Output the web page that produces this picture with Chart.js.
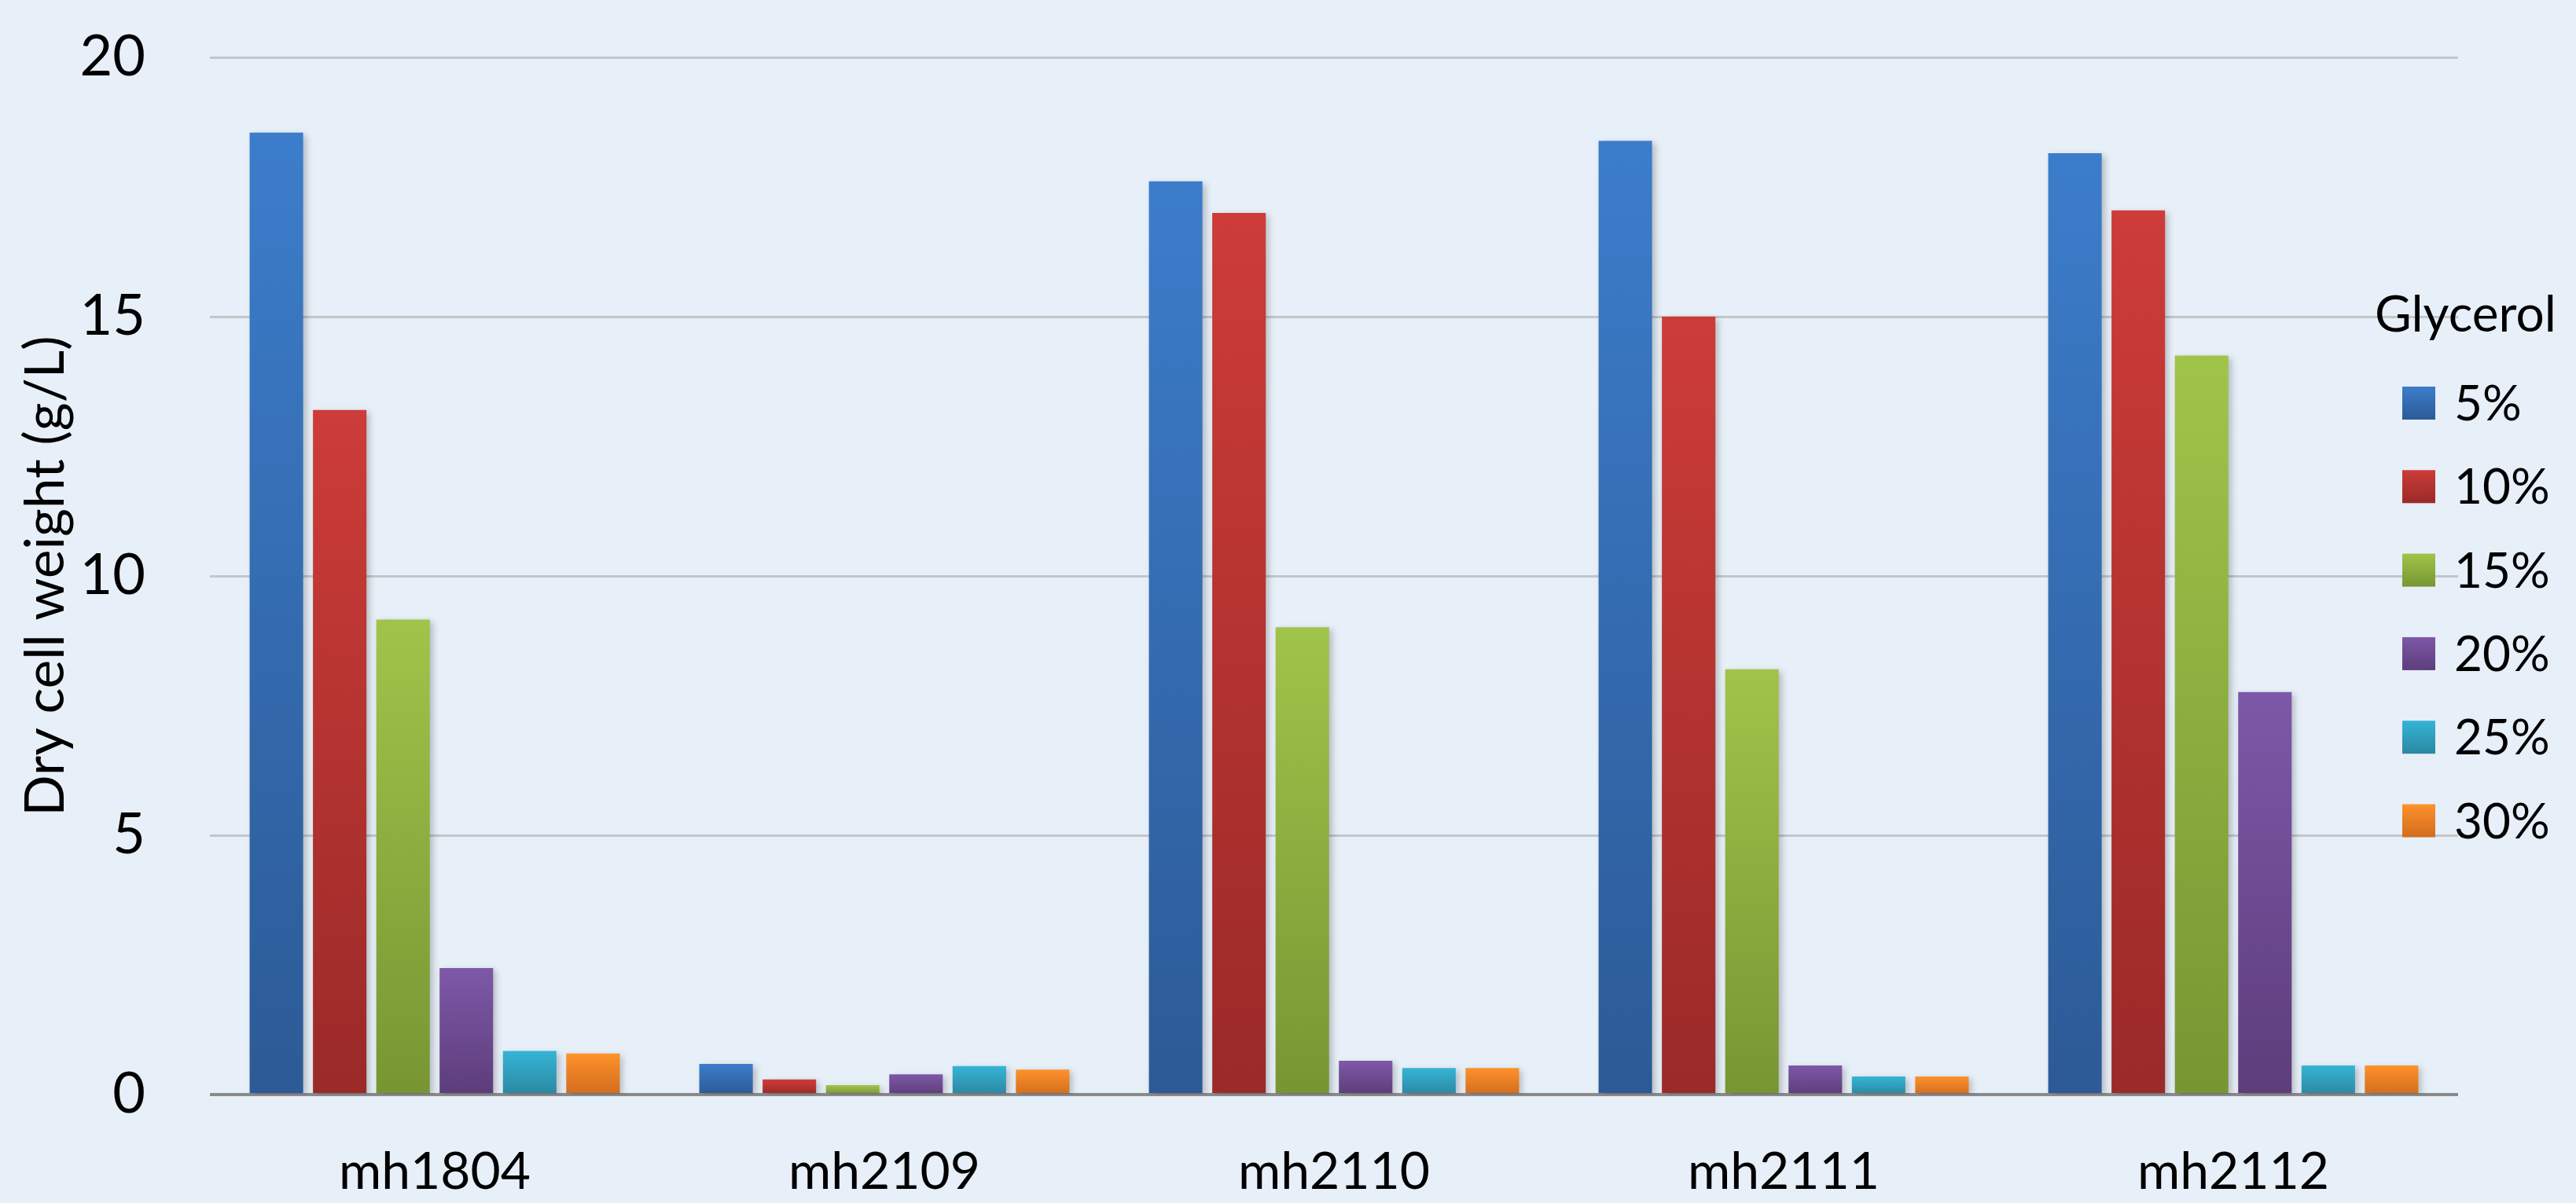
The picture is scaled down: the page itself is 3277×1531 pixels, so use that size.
<!DOCTYPE html>
<html>
<head>
<meta charset="utf-8">
<title>Dry cell weight by glycerol concentration</title>
<script src="https://cdn.jsdelivr.net/npm/chart.js@4/dist/chart.umd.min.js"></script>
<style>
  html, body { margin: 0; padding: 0; background: #e7eff8; }
  #wrap { width: 3277px; height: 1531px; }
</style>
</head>
<body>
<div id="wrap"><canvas id="dcw" width="3277" height="1531"></canvas></div>
<script>
// Strains on the x axis
const strains = ['mh1804', 'mh2109', 'mh2110', 'mh2111', 'mh2112'];

// Glycerol concentrations (one series each)
const glycerolLevels = ['5%', '10%', '15%', '20%', '25%', '30%'];

// Dry cell weight (g/L) per strain, one array per glycerol level
const dcw5  = [18.55, 0.59, 17.61, 18.39, 18.15];
const dcw10 = [13.20, 0.29, 17.00, 15.00, 17.05];
const dcw15 = [9.16, 0.18, 9.01, 8.20, 14.25];
const dcw20 = [2.44, 0.39, 0.65, 0.56, 7.76];
const dcw25 = [0.84, 0.55, 0.51, 0.35, 0.56];
const dcw30 = [0.79, 0.48, 0.51, 0.35, 0.56];

// Y axis ticks
const yTicks = [0, 5, 10, 15, 20];

const seriesValues = [dcw5, dcw10, dcw15, dcw20, dcw25, dcw30];

// Fill colours per series: light at the top of each bar, darker at the base
const seriesTop    = ['#3c7dcb', '#cd3c38', '#a0c44a', '#7e58a8', '#36b4d6', '#fe912b'];
const seriesBottom = ['#2c5a96', '#9a2a28', '#779633', '#5d3d7b', '#2a88a2', '#d26d1d'];

const FONT = 'Lato, "Open Sans", "DejaVu Sans", sans-serif';

function barFill(i) {
  return (ctx) => {
    const chart = ctx.chart;
    if (!chart.chartArea || ctx.type !== 'data') return seriesTop[i];
    const y = chart.scales.y;
    const v = ctx.raw;
    const yTop = y.getPixelForValue(v);
    const yBase = y.getPixelForValue(0);
    if (!isFinite(yTop) || !isFinite(yBase) || yBase - yTop < 1) return seriesTop[i];
    const g = chart.ctx.createLinearGradient(0, yTop, 0, yBase);
    g.addColorStop(0, seriesTop[i]);
    g.addColorStop(1, seriesBottom[i]);
    return g;
  };
}

const datasets = glycerolLevels.map((lvl, i) => ({
  label: lvl,
  data: seriesValues[i],
  backgroundColor: barFill(i),
  borderWidth: 0,
  categoryPercentage: 0.845,
  barPercentage: 0.845
}));

// Page background
const backdrop = {
  id: 'backdrop',
  beforeDraw(chart) {
    const c = chart.ctx;
    c.save();
    c.fillStyle = '#e7eff8';
    c.fillRect(0, 0, chart.width, chart.height);
    c.restore();
  }
};

// Soft drop shadow under the bars
const barShadow = {
  id: 'barShadow',
  beforeDatasetsDraw(chart) {
    const c = chart.ctx;
    c.save();
    c.shadowColor = 'rgba(0,0,0,0.22)';
    c.shadowBlur = 8;
    c.shadowOffsetX = 4;
    c.shadowOffsetY = 3;
  },
  afterDatasetsDraw(chart) {
    chart.ctx.restore();
  }
};

// Vertical legend with a title, drawn over the right edge of the plot
const glycerolLegend = {
  id: 'glycerolLegend',
  afterDraw(chart) {
    const c = chart.ctx;
    const x0 = 3021, titleY = 401;
    const swX = 3056, sw = 42, textX = 3122;
    const firstY = 513, step = 106.3;
    c.save();
    c.fillStyle = '#000';
    c.textBaseline = 'middle';
    c.textAlign = 'left';
    c.font = '64px ' + FONT;
    c.fillText('Glycerol', x0, titleY);
    chart.data.datasets.forEach((ds, i) => {
      const cy = firstY + i * step;
      const g = c.createLinearGradient(0, cy - sw / 2, 0, cy + sw / 2);
      g.addColorStop(0, seriesTop[i]);
      g.addColorStop(1, seriesBottom[i]);
      c.fillStyle = g;
      c.fillRect(swX, cy - sw / 2, sw, sw);
      c.fillStyle = '#000';
      c.font = '62px ' + FONT;
      c.fillText(ds.label, textX, cy + 2);
    });
    c.restore();
  }
};

new Chart(document.getElementById('dcw'), {
  type: 'bar',
  data: { labels: strains, datasets },
  plugins: [backdrop, barShadow, glycerolLegend],
  options: {
    responsive: false,
    animation: false,
    devicePixelRatio: 1,
    layout: { padding: { left: 0, right: 150, top: 73, bottom: 0 } },
    plugins: {
      legend: { display: false },
      tooltip: { enabled: false }
    },
    scales: {
      x: {
        grid: { display: false, drawTicks: false },
        border: { display: false },
        ticks: {
          color: '#000',
          font: { family: FONT, size: 66, lineHeight: 1.2 },
          padding: 59,
          maxRotation: 0
        },
        afterFit(scale) { scale.height = 138; }
      },
      y: {
        min: 0,
        max: 20,
        afterBuildTicks(scale) { scale.ticks = yTicks.map(v => ({ value: v })); },
        grid: {
          drawTicks: false,
          color: (ctx) => (ctx.tick && ctx.tick.value === 0 ? '#8a8a8a' : '#c4c6c8'),
          lineWidth: (ctx) => (ctx.tick && ctx.tick.value === 0 ? 4 : 3)
        },
        border: { display: false },
        ticks: {
          color: '#000',
          font: { family: FONT, size: 72, lineHeight: 1.2 },
          padding: 82
        },
        title: {
          display: true,
          text: 'Dry cell weight (g/L)',
          color: '#000',
          font: { family: FONT, size: 69, lineHeight: 1.2 },
          padding: { top: 17, bottom: 0 }
        },
        afterFit(scale) {
          // fixed axis width; the tick padding must not push the plot down
          scale.width = 267;
          scale.paddingTop = 0;
          scale.paddingBottom = 0;
        }
      }
    }
  }
});
</script>
</body>
</html>
